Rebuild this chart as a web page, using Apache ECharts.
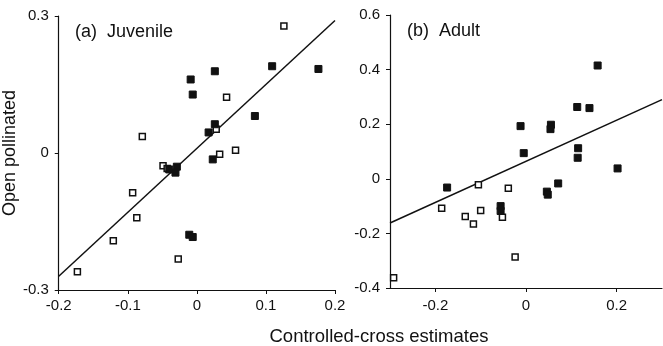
<!DOCTYPE html>
<html>
<head>
<meta charset="utf-8">
<script src="https://cdn.jsdelivr.net/npm/echarts@6/dist/echarts.min.js"></script>
<style>
  html, body { margin: 0; padding: 0; background: #fff; }
  #chart { width: 663px; height: 346px; }
</style>
</head>
<body>
<div id="chart"></div>
<script>
// (a) juvenile: [controlled-cross, open pollinated]
const juvOpen = [
  [-0.173, -0.26], [-0.121, -0.192], [-0.087, -0.142], [-0.093, -0.087],
  [-0.079, 0.036], [-0.027, -0.232], [-0.049, -0.028], [-0.043, -0.034],
  [0.043, 0.122], [0.033, -0.003], [0.056, 0.006], [0.028, 0.052],
  [0.126, 0.278]
];
const juvFilled = [
  [-0.009, 0.161], [-0.006, 0.128], [0.026, 0.179], [0.109, 0.19],
  [0.176, 0.184], [0.084, 0.081], [0.026, 0.063], [0.017, 0.045],
  [0.023, -0.014], [-0.029, -0.03], [-0.031, -0.043], [-0.04, -0.036],
  [-0.011, -0.179], [-0.006, -0.184]
];
const juvFit = [[-0.2, -0.27], [0.2, 0.29]];

// (b) adult
const adultOpen = [
  [-0.292, -0.362], [-0.186, -0.108], [-0.134, -0.138], [-0.116, -0.166],
  [-0.105, -0.022], [-0.1, -0.116], [-0.052, -0.141], [-0.039, -0.035],
  [-0.024, -0.286]
];
const adultFilled = [
  [-0.174, -0.032], [-0.056, -0.1], [-0.056, -0.118], [-0.012, 0.193],
  [-0.005, 0.094], [0.046, -0.047], [0.048, -0.058], [0.055, 0.198],
  [0.054, 0.182], [0.071, -0.017], [0.113, 0.263], [0.14, 0.259],
  [0.115, 0.112], [0.114, 0.077], [0.158, 0.415], [0.202, 0.038]
];
const adultFit = [[-0.3, -0.162], [0.3, 0.29]];

const juvXTicks = [-0.2, -0.1, 0, 0.1, 0.2];
const juvYTicks = [-0.3, 0, 0.3];
const adultXTicks = [-0.2, 0, 0.2];
const adultYTicks = [-0.4, -0.2, 0, 0.2, 0.4, 0.6];

const font = "'Liberation Sans', Arial, sans-serif";
const ink = "#111";
const fmt = (v) => (Math.abs(v) < 1e-9 ? "0" : String(Math.round(v * 10) / 10));

function axisBase(extra) {
  return Object.assign({
    type: "value",
    axisLine: { show: true, onZero: false, lineStyle: { color: ink, width: 1.2 } },
    splitLine: { show: false }
  }, extra);
}
const tick = (vals) => ({ show: true, length: 4, lineStyle: { color: ink }, customValues: vals });
const label = (vals, margin) => ({ color: ink, fontSize: 15, fontFamily: font, margin, formatter: fmt, customValues: vals });

const chart = echarts.init(document.getElementById("chart"), null, { renderer: "canvas" });

const openStyle = { color: "#fff", borderColor: ink, borderWidth: 1.5, opacity: 1 };
const filledStyle = { color: ink, borderColor: ink, borderWidth: 1, opacity: 1 };

chart.setOption({
  animation: false,
  backgroundColor: "#fff",
  textStyle: { fontFamily: font },
  grid: [
    { left: 55, top: 16, width: 280, height: 274 },
    { left: 390, top: 15, width: 272, height: 273 }
  ],
  xAxis: [
    axisBase({ gridIndex: 0, min: -0.2, max: 0.2, interval: 0.1,
      axisTick: tick(juvXTicks), axisLabel: label(juvXTicks, 8) }),
    axisBase({ gridIndex: 1, min: -0.3, max: 0.3,
      axisTick: tick(adultXTicks), axisLabel: label(adultXTicks, 10) })
  ],
  yAxis: [
    axisBase({ gridIndex: 0, min: -0.3, max: 0.3, interval: 0.3,
      name: "Open pollinated", nameLocation: "middle", nameGap: 30, nameRotate: 90,
      nameTextStyle: { color: ink, fontSize: 18, fontFamily: font },
      axisTick: tick(juvYTicks), axisLabel: label(juvYTicks, 10) }),
    axisBase({ gridIndex: 1, min: -0.4, max: 0.6, interval: 0.2,
      axisTick: tick(adultYTicks), axisLabel: label(adultYTicks, 10) })
  ],
  title: [
    { text: "(a)  Juvenile", left: 75, top: 23, padding: 0,
      textStyle: { fontSize: 18, fontWeight: "normal", color: ink, fontFamily: font } },
    { text: "(b)  Adult", left: 407, top: 22, padding: 0,
      textStyle: { fontSize: 18, fontWeight: "normal", color: ink, fontFamily: font } }
  ],
  graphic: [
    { type: "text", x: 379, y: 337,
      style: { text: "Controlled-cross estimates", fontSize: 18.5, fontFamily: font, fill: ink,
        textAlign: "center", textVerticalAlign: "middle" } }
  ],
  series: [
    { type: "scatter", xAxisIndex: 0, yAxisIndex: 0, data: juvOpen, symbol: "rect", symbolSize: 6, itemStyle: openStyle },
    { type: "scatter", xAxisIndex: 0, yAxisIndex: 0, data: juvFilled, symbol: "rect", symbolSize: 7, itemStyle: filledStyle },
    { type: "line", xAxisIndex: 0, yAxisIndex: 0, data: juvFit, showSymbol: false, symbol: "none",
      lineStyle: { color: ink, width: 1.5 }, z: 1 },
    { type: "scatter", xAxisIndex: 1, yAxisIndex: 1, data: adultOpen, symbol: "rect", symbolSize: 6, itemStyle: openStyle },
    { type: "scatter", xAxisIndex: 1, yAxisIndex: 1, data: adultFilled, symbol: "rect", symbolSize: 7, itemStyle: filledStyle },
    { type: "line", xAxisIndex: 1, yAxisIndex: 1, data: adultFit, showSymbol: false, symbol: "none",
      lineStyle: { color: ink, width: 1.5 }, z: 1 }
  ]
});
</script>
</body>
</html>
